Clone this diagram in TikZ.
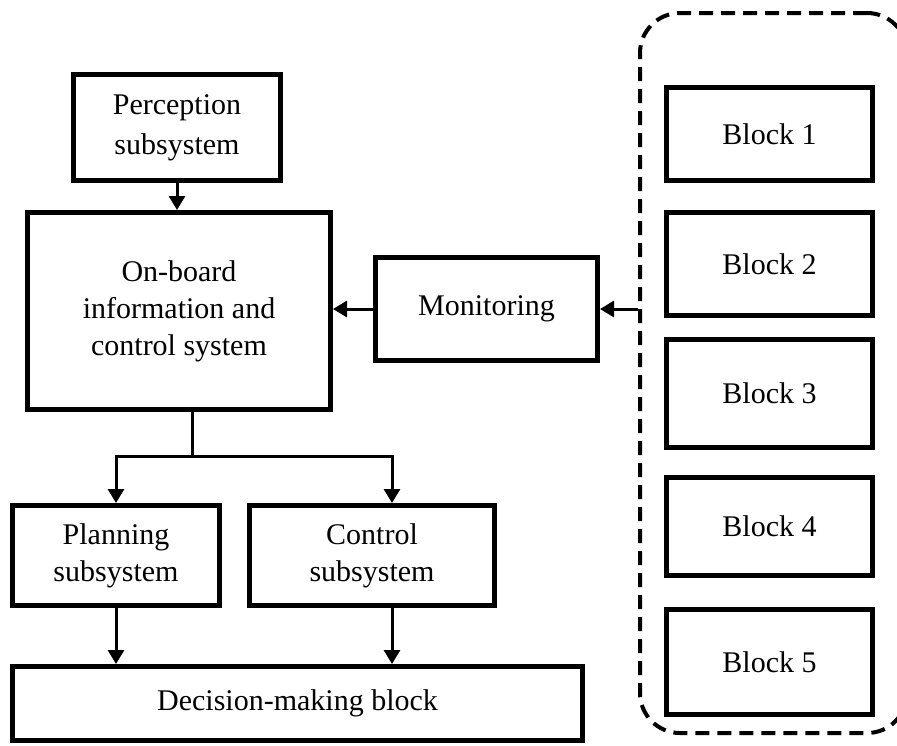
\documentclass[tikz,border=0pt]{standalone}
\usepackage{fontspec}
\setmainfont{Liberation Serif}
\usetikzlibrary{arrows.meta,calc}
\begin{document}
% one drawing unit = 0.5pt; all sizes below are given in points
\begin{tikzpicture}[x=0.5pt,y=-0.5pt,
  box/.style={draw,line width=2.5pt,align=center,inner sep=0pt,
    font=\fontsize{15}{18.5}\selectfont},
  arr/.style={line width=1.5pt,-{Triangle[length=7pt,width=8pt]}},
  link/.style={line width=1.5pt},
  group/.style={draw,line width=2pt,dash pattern=on 7pt off 4pt,
    rounded corners=20pt,inner sep=0pt}]
\clip (0,0) rectangle (897,745);

% left column
\node[box,minimum width=103.5pt,minimum height=53pt,
  font=\fontsize{15}{20}\selectfont] (perc) at (177,127.5) {Perception\\subsystem};
\node[box,minimum width=151.5pt,minimum height=98.5pt] (onboard) at (179,311)
  {On-board\\information and\\control system};
\node[box,minimum width=111pt,minimum height=51.5pt] (mon) at (486.5,309) {Monitoring};
\node[box,minimum width=103.5pt,minimum height=50pt] (plan) at (116,555.5) {Planning\\subsystem};
\node[box,minimum width=122.5pt,minimum height=50pt] (ctrl) at (372,555.5) {Control\\subsystem};
\node[box,minimum width=285pt,minimum height=37pt] (dec) at (297.5,703.5) {Decision-making block};

% grouped blocks on the right
\node[group,minimum width=133.5pt,minimum height=360pt] (grp) at (773.5,373) {};
\node[box,minimum width=103pt,minimum height=46.5pt] (b1) at (769.5,134)   {Block 1};
\node[box,minimum width=103pt,minimum height=51.5pt] (b2) at (769.5,264)   {Block 2};
\node[box,minimum width=103pt,minimum height=54pt]   (b3) at (769.5,393.5) {Block 3};
\node[box,minimum width=103pt,minimum height=49pt]   (b4) at (769.5,526.5) {Block 4};
\node[box,minimum width=103pt,minimum height=52.5pt] (b5) at (769.5,662)   {Block 5};

% connectors
\draw[arr] (perc.south) -- (perc.south |- onboard.north);
\draw[arr] (grp.west |- mon.east) -- (mon.east);
\draw[arr] (mon.west) -- (mon.west -| onboard.east);

\coordinate (fork) at (192,456);
\coordinate (cin) at ([xshift=10pt]ctrl.north);
\coordinate (cout) at ([xshift=10pt]ctrl.south);
\draw[link] (onboard.south -| fork) -- (fork);
\draw[arr] (fork) -| (plan.north);
\draw[arr] (fork) -| (cin);
\draw[arr] (plan.south) -- (plan.south |- dec.north);
\draw[arr] (cout) -- (cout |- dec.north);
\end{tikzpicture}
\end{document}
